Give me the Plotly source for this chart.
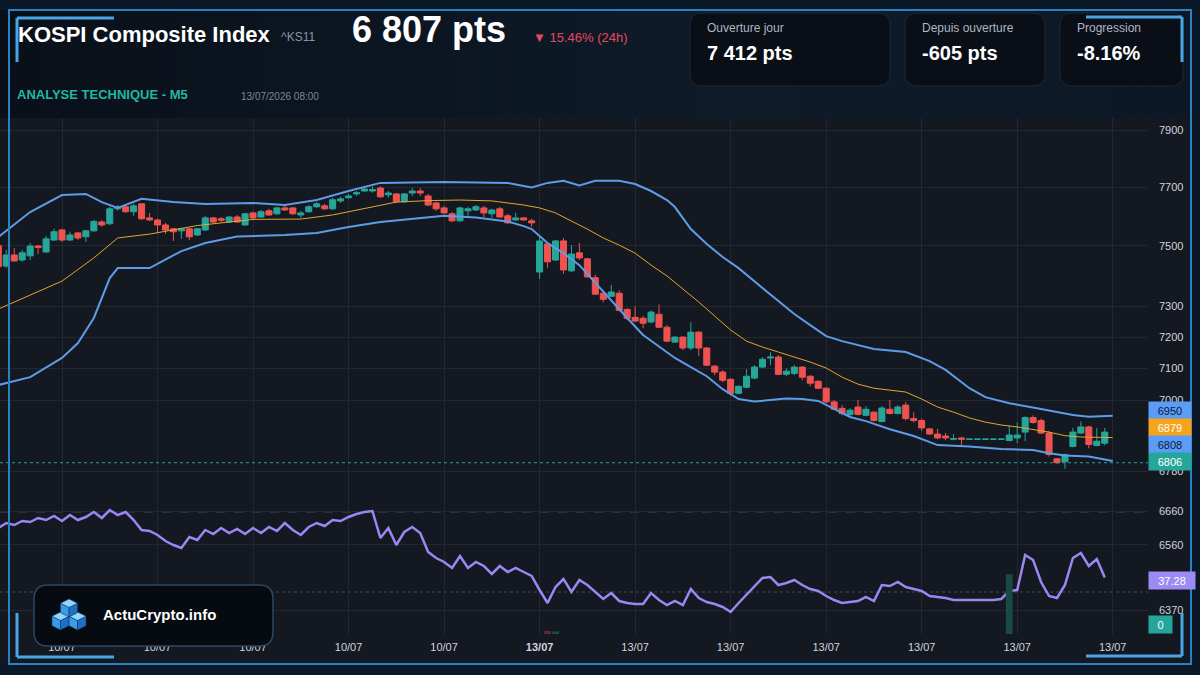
import math
import plotly.graph_objects as go

W, H = 1200, 675
FONT = "Liberation Sans, Arial, sans-serif"

# ---------------- DATA ----------------
tick_idx = [8, 20, 32, 44, 56, 68, 80, 92, 104, 116, 128, 140]
tick_text = ["10/07", "10/07", "10/07", "10/07", "10/07", "<b>13/07</b>",
             "13/07", "13/07", "13/07", "13/07", "13/07", "13/07"]

candle_idx = list(range(140))
open_ = [7501, 7433, 7470, 7453, 7467, 7500, 7480, 7520, 7554, 7520,
         7544, 7531, 7551, 7581, 7575, 7626, 7633, 7616, 7643, 7595,
         7588, 7571, 7558, 7551, 7558, 7537, 7554, 7595, 7592, 7581,
         7598, 7571, 7612, 7598, 7619, 7609, 7629, 7629, 7605, 7616,
         7633, 7636, 7626, 7653, 7664, 7677, 7687, 7687, 7697, 7674,
         7677, 7650, 7680, 7687, 7670, 7646, 7629, 7609, 7585, 7619,
         7622, 7629, 7609, 7626, 7602, 7588, 7595, 7585, 7413, 7507,
         7453, 7517, 7417, 7477, 7457, 7394, 7343, 7333, 7343, 7290,
         7264, 7261, 7249, 7274, 7232, 7184, 7200, 7165, 7216, 7165,
         7107, 7088, 7065, 7021, 7040, 7069, 7104, 7133, 7136, 7081,
         7084, 7104, 7075, 7059, 7037, 6994, 6974, 6955, 6978, 6952,
         6962, 6933, 6971, 6958, 6984, 6942, 6936, 6910, 6894, 6888,
         6878, 6882, 6878, 6878, 6878, 6878, 6878, 6874, 6882, 6900,
         6945, 6936, 6897, 6818, 6809, 6856, 6897, 6916, 6859, 6866]
high = [7505, 7487, 7493, 7487, 7510, 7503, 7534, 7558, 7558, 7548,
        7548, 7554, 7588, 7588, 7633, 7639, 7639, 7643, 7646, 7612,
        7592, 7578, 7561, 7561, 7561, 7561, 7602, 7598, 7598, 7602,
        7605, 7612, 7616, 7622, 7626, 7633, 7639, 7633, 7619, 7639,
        7650, 7643, 7664, 7667, 7677, 7687, 7703, 7703, 7703, 7687,
        7680, 7680, 7697, 7697, 7677, 7650, 7636, 7616, 7633, 7633,
        7639, 7636, 7626, 7633, 7609, 7612, 7598, 7592, 7531, 7510,
        7520, 7527, 7503, 7510, 7460, 7404, 7353, 7370, 7353, 7294,
        7300, 7268, 7287, 7306, 7239, 7203, 7203, 7248, 7219, 7168,
        7110, 7094, 7069, 7046, 7097, 7110, 7136, 7152, 7142, 7100,
        7110, 7107, 7078, 7062, 7040, 7000, 6984, 6974, 7000, 6981,
        6965, 6981, 7000, 6984, 6994, 6962, 6942, 6913, 6910, 6897,
        6894, 6885, 6878.4, 6878.4, 6878.4, 6878.4, 6878.4, 6920, 6930, 6949,
        6952, 6942, 6904, 6821, 6834, 6913, 6933, 6920, 6913, 6913]
low = [7428, 7427, 7447, 7447, 7453, 7473, 7477, 7517, 7514, 7517,
       7520, 7514, 7548, 7565, 7571, 7619, 7612, 7602, 7588, 7585,
       7544, 7541, 7517, 7524, 7520, 7534, 7551, 7578, 7581, 7578,
       7578, 7568, 7588, 7595, 7602, 7605, 7619, 7605, 7595, 7612,
       7629, 7622, 7622, 7646, 7660, 7670, 7684, 7681, 7664, 7664,
       7646, 7646, 7670, 7670, 7636, 7619, 7609, 7581, 7581, 7602,
       7619, 7598, 7595, 7595, 7575, 7585, 7585, 7565, 7390, 7427,
       7450, 7407, 7413, 7453, 7394, 7337, 7313, 7330, 7284, 7255,
       7249, 7229, 7245, 7229, 7184, 7181, 7158, 7158, 7139, 7107,
       7078, 7056, 7018, 7018, 7037, 7065, 7100, 7110, 7078, 7075,
       7078, 7062, 7043, 7034, 6990, 6968, 6952, 6949, 6952, 6949,
       6933, 6930, 6955, 6955, 6936, 6930, 6904, 6891, 6878, 6875,
       6875, 6860, 6878, 6878, 6878, 6878, 6878, 6872, 6866, 6872,
       6926, 6894, 6825, 6803, 6788, 6853, 6894, 6850, 6856, 6859]
close = [7431, 7470, 7450, 7477, 7500, 7495, 7524, 7548, 7520, 7537,
         7527, 7551, 7583, 7571, 7626, 7633, 7616, 7636, 7592, 7588,
         7571, 7554, 7548, 7558, 7531, 7558, 7595, 7581, 7587, 7598,
         7581, 7609, 7595, 7616, 7605, 7629, 7622, 7609, 7612, 7633,
         7643, 7626, 7657, 7660, 7670, 7681, 7694, 7692, 7667, 7680,
         7650, 7677, 7687, 7680, 7639, 7626, 7612, 7585, 7629, 7626,
         7633, 7612, 7622, 7598, 7578, 7595, 7588, 7578, 7517, 7447,
         7517, 7420, 7473, 7460, 7397, 7340, 7323, 7347, 7287, 7261,
         7252, 7245, 7281, 7232, 7187, 7200, 7165, 7216, 7165, 7110,
         7088, 7062, 7021, 7043, 7075, 7104, 7129, 7136, 7081, 7091,
         7104, 7072, 7053, 7037, 6994, 6971, 6958, 6968, 6955, 6971,
         6936, 6975, 6958, 6978, 6942, 6936, 6913, 6894, 6882, 6882,
         6880, 6878, 6878.4, 6878.4, 6878.4, 6878.4, 6878.4, 6891, 6891, 6945,
         6930, 6897, 6831, 6806, 6831, 6900, 6916, 6862, 6872, 6900]

bb_upper_idx = [0, 4, 8, 11, 13, 15, 18, 22, 26, 32, 36, 40, 44, 48, 56, 64, 67, 69, 71, 73,
                75, 78, 80, 82, 84, 85, 87, 89, 91, 93, 96, 100, 102, 104, 106, 110, 114, 117, 119, 122,
                124, 127, 131, 135, 137, 140]
bb_upper = [7530, 7615, 7673, 7677, 7649, 7629, 7660, 7649, 7642, 7646, 7639, 7656, 7687, 7715, 7718, 7715, 7699, 7715, 7722, 7706,
            7722, 7722, 7711, 7687, 7656, 7632, 7557, 7507, 7463, 7426, 7360, 7275, 7239, 7203, 7187, 7162, 7152, 7123, 7095, 7037,
            7009, 6990, 6972, 6953, 6948, 6951]

ma_idx = [0, 4, 8, 12, 15, 19, 25, 32, 38, 42, 46, 50, 54, 58, 62, 66, 68, 70, 72, 74,
          76, 78, 80, 82, 84, 86, 88, 90, 92, 94, 96, 98, 100, 102, 104, 106, 108, 110, 112, 114,
          116, 118, 120, 122, 124, 126, 128, 130, 132, 134, 136, 140]
ma_vals = [7291, 7337, 7383, 7460, 7527, 7540, 7569, 7590, 7591, 7605, 7627, 7649, 7654, 7656, 7653, 7639, 7629, 7612, 7584, 7557,
           7527, 7503, 7476, 7436, 7400, 7357, 7314, 7268, 7223, 7187, 7168, 7152, 7136, 7120, 7101, 7072, 7050, 7037, 7031, 7025,
           7003, 6978, 6962, 6944, 6931, 6922, 6916, 6908, 6900, 6889, 6885, 6883]

bb_lower_idx = [0, 4, 8, 10, 12, 14, 15, 19, 23, 26, 30, 36, 40, 44, 48, 52, 56, 60, 64, 66,
                67, 69, 71, 73, 75, 77, 79, 81, 83, 85, 87, 89, 91, 93, 95, 97, 99, 101, 103, 105,
                107, 109, 112, 115, 118, 122, 126, 130, 132, 134, 137, 140]
bb_lower = [7047, 7072, 7133, 7181, 7262, 7393, 7426, 7426, 7483, 7510, 7532, 7537, 7544, 7564, 7581, 7591, 7602, 7596, 7583, 7567,
            7557, 7510, 7476, 7436, 7377, 7321, 7262, 7207, 7171, 7133, 7104, 7075, 7034, 7003, 6995, 7000, 7005, 7003, 6997, 6972,
            6947, 6934, 6909, 6888, 6860, 6856, 6848, 6845, 6835, 6828, 6825, 6811]

rsi_vals = [62, 64.5, 63.5, 65.5, 65, 67, 66, 68, 65.5, 68.5, 66, 67.5, 70, 67, 71, 68.5, 70, 66, 61, 60.5,
            58.5, 55.5, 53.5, 52, 57.5, 56, 61, 59, 62, 59.5, 61.5, 59, 62, 59.5, 62.5, 60.5, 64.5, 61, 58.5, 62.5,
            64.5, 63, 66, 65.5, 67.5, 69, 70, 70.5,
            57, 62, 53.5, 60, 62.5, 59.5, 50, 47, 45, 42, 48, 42, 45, 43, 39, 43, 40, 42, 40, 38,
            31, 24.5, 32.5, 36.5, 30, 36, 33.5, 30, 26.5, 29.5, 25.5, 24.5, 24, 24, 29.5, 26, 23.5, 25.5, 23.5, 31.5,
            27, 25, 24, 22.5, 20, 24.5, 28.5, 33, 37, 37.5, 33.5, 34.5, 36, 33.5, 31.5, 30.5, 28, 26, 24.5, 25,
            25.5, 27.5, 25.5, 33.5, 33, 35, 32.5, 31.5, 30.5, 28, 27.5, 27, 26, 26, 26, 26, 26, 26, 26.5, 30.5,
            31, 48.5, 46, 35, 28, 27, 33.5, 47, 49.5, 43, 46.5, 37.28]

vol_idx = [69, 70, 127]
vol_vals = [0.6, 0.5, 11.6]
vol_colors = ["#5b2a33", "#1b4a44", "#1b4a44"]

price_ticks = [7900, 7700, 7500, 7300, 7200, 7100, 7000, 6780, 6660, 6560, 6370]
last_price = 6806
label_upper, label_ma, label_lower = 6950, 6879, 6808
rsi_last = 37.28
rsi_levels = [70, 30]

title = "KOSPI Composite Index"
ticker = "^KS11"
price_text = "6 807 pts"
change_text = "▼ 15.46% (24h)"
subtitle = "ANALYSE TECHNIQUE - M5"
stamp = "13/07/2026 08:00"
cards = [("Ouverture jour", "7 412 pts"), ("Depuis ouverture", "-605 pts"), ("Progression", "-8.16%")]

# ---------------- helpers ----------------
def PX(x):
    return x / W


def PY(y):
    return 1 - y / H


def rrect_path(x0, y0, x1, y1, r):
    pts = [
        ("M", [(x0 + r, y0)]), ("L", [(x1 - r, y0)]), ("Q", [(x1, y0), (x1, y0 + r)]),
        ("L", [(x1, y1 - r)]), ("Q", [(x1, y1), (x1 - r, y1)]), ("L", [(x0 + r, y1)]),
        ("Q", [(x0, y1), (x0, y1 - r)]), ("L", [(x0, y0 + r)]), ("Q", [(x0, y0), (x0 + r, y0)]),
    ]
    s = ""
    for cmd, ps in pts:
        s += cmd + " " + " ".join(f"{PX(a):.5f},{PY(b):.5f}" for a, b in ps) + " "
    return s + "Z"


def poly_path(points):
    return "M " + " L ".join(f"{PX(a):.5f},{PY(b):.5f}" for a, b in points) + " Z"


def mix(c1, c2, t):
    a = [int(c1[i:i + 2], 16) for i in (1, 3, 5)]
    b = [int(c2[i:i + 2], 16) for i in (1, 3, 5)]
    return "#" + "".join(f"{round(a[k] + (b[k] - a[k]) * t):02x}" for k in range(3))


shapes = []
annotations = []


def text(t, x, y, size, color, anchor="left"):
    annotations.append(dict(text=t, x=PX(x), y=PY(y), xref="paper", yref="paper",
                            xanchor=anchor, yanchor="middle", showarrow=False,
                            font=dict(size=size, color=color, family=FONT)))


def box_label(t, x0, x1, yc, bg, fg):
    annotations.append(dict(text=t, x=PX(x0), y=PY(yc), xref="paper", yref="paper",
                            xanchor="left", yanchor="middle", showarrow=False,
                            width=x1 - x0 - 2, height=15, bgcolor=bg, borderpad=1,
                            font=dict(size=11, color=fg, family=FONT)))


# ---------------- background / decoration ----------------
stops = [(0.0, "#0a1019"), (0.35, "#0c1622"), (0.6, "#0e1b29"), (1.0, "#0c1825")]
n = 60
for k in range(n):
    t = (k + 0.5) / n
    for j in range(len(stops) - 1):
        if stops[j][0] <= t <= stops[j + 1][0]:
            tt = (t - stops[j][0]) / (stops[j + 1][0] - stops[j][0])
            col = mix(stops[j][1], stops[j + 1][1], tt)
            break
    xa = k * 1191 / n
    xb = (k + 1) * 1191 / n + 0.6
    shapes.append(dict(type="rect", xref="paper", yref="paper", x0=PX(xa), x1=PX(xb),
                       y0=PY(118), y1=PY(10), fillcolor=col, line=dict(width=0), layer="below"))
shapes.append(dict(type="rect", xref="paper", yref="paper", x0=PX(0), x1=PX(1191), y0=PY(664), y1=PY(118),
                   fillcolor="#141821", line=dict(width=0), layer="below"))

card_boxes = [(690, 890, 706), (905, 1045, 921), (1060, 1183, 1076)]
for (lab, val), (cx0, cx1, tx) in zip(cards, card_boxes):
    shapes.append(dict(type="path", xref="paper", yref="paper", path=rrect_path(cx0, 13, cx1, 86, 12),
                       fillcolor="#090e17", line=dict(color="#1d2835", width=1), layer="below"))
    text(lab, tx - 1, 28, 12, "#aeb6c2")
    text(f"<b>{val}</b>", tx - 1, 53, 20, "#ffffff")

text(f"<b>{title}</b>", 16, 34, 22, "#ffffff")
text(ticker, 279, 37, 12, "#8a94a4")
text(f"<b>{price_text}</b>", 350, 30, 36, "#ffffff")
text(change_text, 531, 37, 13, "#e5495e")
text(f"<b>{subtitle}</b>", 15, 95, 13, "#1fb8a2")
text(stamp, 239, 96, 10, "#7d8796")

shapes.append(dict(type="line", xref="paper", yref="y", x0=0, x1=PX(1148), y0=last_price, y1=last_price,
                   line=dict(color="#26a69a", width=1, dash="dot"), layer="above"))
for lv, dsh in zip(rsi_levels, ["dash", "dot"]):
    shapes.append(dict(type="line", xref="paper", yref="y2", x0=0, x1=PX(1148), y0=lv, y1=lv,
                       line=dict(color="#434856", width=1, dash=dsh), layer="below"))

box_label(f"{label_upper}", 1148, 1190, 410.5, "#5b9cf6", "#0b1a3c")
box_label(f"{label_ma}", 1148, 1190, 427.5, "#f5a31a", "#ffffff")
box_label(f"{label_lower}", 1148, 1190, 444.5, "#5b9cf6", "#0b1a3c")
box_label(f"{last_price}", 1148, 1190, 461.5, "#26a69a", "#ffffff")
box_label(f"{rsi_last}", 1148, 1194, 580, "#9d8bf4", "#ffffff")
box_label("0", 1148, 1171, 624.5, "#26a69a", "#ffffff")

FR = "#2d80c0"
shapes.append(dict(type="rect", xref="paper", yref="paper", x0=PX(9), x1=PX(1191), y0=PY(664), y1=PY(10),
                   line=dict(color=FR, width=2), fillcolor="rgba(0,0,0,0)", layer="above"))
BR = "#49a6e6"
for (xa, ya, xb, yb) in [(17, 18, 114, 18), (17, 18, 17, 62), (1086, 17, 1182, 17), (1182, 17, 1182, 62),
                         (17, 613, 17, 657), (17, 657, 114, 657), (1182, 613, 1182, 656), (1086, 656, 1182, 656)]:
    shapes.append(dict(type="line", xref="paper", yref="paper", x0=PX(xa), x1=PX(xb), y0=PY(ya), y1=PY(yb),
                       line=dict(color=BR, width=3), layer="above"))

shapes.append(dict(type="path", xref="paper", yref="paper", path=rrect_path(34, 585, 273, 646, 14),
                   fillcolor="#060a11", line=dict(color="#2a4864", width=1.5), layer="above"))


def cube(cx, cy, w, a, e):
    top = [(cx, cy - 2 * a), (cx + w, cy - a), (cx, cy), (cx - w, cy - a)]
    left = [(cx - w, cy - a), (cx, cy), (cx, cy + e), (cx - w, cy - a + e)]
    right = [(cx, cy), (cx + w, cy - a), (cx + w, cy - a + e), (cx, cy + e)]
    for pts, col in [(left, "#3b9be8"), (right, "#1f6fc4"), (top, "#8fd6ff")]:
        shapes.append(dict(type="path", xref="paper", yref="paper", path=poly_path(pts),
                           fillcolor=col, line=dict(color="#0b3a66", width=0.6), layer="above"))


cube(60.5, 620.5, 8.5, 4.3, 9.5)
cube(77.5, 620.5, 8.5, 4.3, 9.5)
cube(69, 607.5, 8.5, 4.3, 9.5)
text("<b>ActuCrypto.info</b>", 101, 614, 15, "#ffffff")

# ---------------- traces ----------------
fig = go.Figure()
fig.add_trace(go.Bar(x=vol_idx, y=vol_vals, yaxis="y3", marker=dict(color=vol_colors, line=dict(width=0)),
                     width=0.85, showlegend=False, hoverinfo="skip"))
fig.add_trace(go.Scatter(x=bb_upper_idx, y=bb_upper, mode="lines", line=dict(color="#5e9ce8", width=2),
                         showlegend=False))
fig.add_trace(go.Scatter(x=bb_lower_idx, y=bb_lower, mode="lines", line=dict(color="#5e9ce8", width=2),
                         showlegend=False))
fig.add_trace(go.Candlestick(x=candle_idx, open=open_, high=high, low=low, close=close,
                             increasing=dict(line=dict(color="#26a69a", width=1), fillcolor="#26a69a"),
                             decreasing=dict(line=dict(color="#ef5350", width=1), fillcolor="#ef5350"),
                             whiskerwidth=0, showlegend=False))
fig.add_trace(go.Scatter(x=ma_idx, y=ma_vals, mode="lines", line=dict(color="#e3a62c", width=1),
                         showlegend=False))
fig.add_trace(go.Scatter(x=candle_idx, y=rsi_vals, yaxis="y2", mode="lines",
                         line=dict(color="#9b86f2", width=2.5), showlegend=False))

# ---------------- layout ----------------
px_per_dec = 270 / (math.log10(7900) - math.log10(7000))
y_top = math.log10(7900) + (130 - 118) / px_per_dec
y_bot = math.log10(7900) - (634 - 130) / px_per_dec
x_lo = 8 - 62 / 7.96
x_hi = 8 + (1148 - 62) / 7.96

tickfont = dict(color="#d1d4dc", size=11, family=FONT)
fig.update_layout(
    width=W, height=H, margin=dict(l=0, r=0, t=0, b=0),
    paper_bgcolor="#0b1828", plot_bgcolor="#151923",
    showlegend=False, boxgap=0.2, boxgroupgap=0.05,
    xaxis=dict(domain=[0, PX(1148)], range=[x_lo, x_hi], tickvals=tick_idx, ticktext=tick_text,
               showgrid=True, gridcolor="#232733", gridwidth=1, zeroline=False, showline=False,
               ticks="", tickfont=tickfont, automargin=False, rangeslider=dict(visible=False),
               ticklabelstandoff=5),
    yaxis=dict(domain=[PY(634), PY(118)], type="log", range=[y_bot, y_top], side="right",
               tickvals=price_ticks, ticktext=[str(v) for v in price_ticks],
               showgrid=True, gridcolor="#232733", zeroline=False, showline=False, ticks="",
               tickfont=tickfont, automargin=False, ticklabelstandoff=10),
    yaxis2=dict(overlaying="y", range=[9, 267], visible=False, automargin=False),
    yaxis3=dict(overlaying="y", range=[0, 100], visible=False, automargin=False),
    shapes=shapes, annotations=annotations,
)

fig.write_html("out.html")
